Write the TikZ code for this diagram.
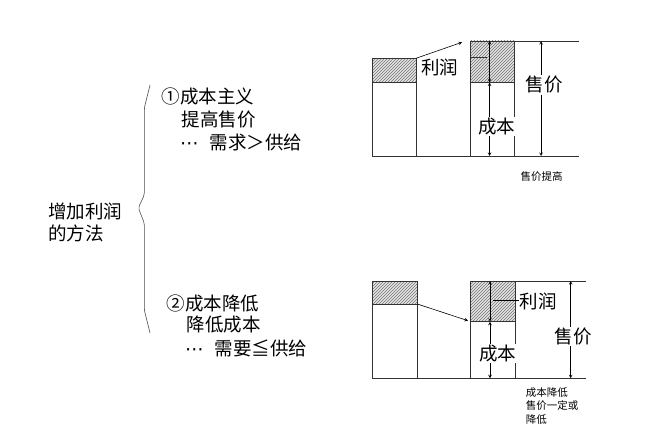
\documentclass[tikz,border=0pt]{standalone}
\usepackage{fontspec}
\setmainfont{Noto Sans CJK SC}
\newfontfamily\dotsfont{DejaVu Sans}
\usetikzlibrary{patterns}

\newcommand{\cdotsx}{{\dotsfont ⋯}\hspace{0.6em}}

\begin{document}
\begin{tikzpicture}[x=1pt,y=-1pt,>=stealth,
    bar/.style={draw=black!80,line width=.7pt},
    hatch/.style={preaction={fill=black!10},pattern=north east lines,pattern color=black!55},
    big/.style={font=\fontsize{18.5}{22}\selectfont,inner sep=0pt},
    small/.style={font=\fontsize{10.5}{13.5}\selectfont,inner sep=0pt},
    lbl/.style={big,fill=white,inner sep=1pt},
    dim/.style={<->,line width=.6pt}]
    \useasboundingbox (0,0) rectangle (660,443);
    % left: methods and brace
    \node[big,align=left,anchor=west] (method) at (48,222.5) {增加利润\\的方法};
    \draw[line width=.6pt,black!70,rounded corners=2pt] (150,85) -- (144.3,108) -- (144.3,195) -- (138.3,208) -- (144.3,223) -- (144.3,310) -- (150,333);
    \node[big,anchor=west] (case1) at (161.7,96) {①成本主义};
    \node[big,anchor=west] (raise) at (181.7,120) {提高售价};
    \node[big,anchor=west] (demand1) at (180,143) {\cdotsx 需求＞供给};
    \node[big,anchor=west] (case2) at (166.7,303) {②成本降低};
    \node[big,anchor=west] (cut) at (186.7,325) {降低成本};
    \node[big,anchor=west] (demand2) at (185,348) {\cdotsx 需要≦供给};
    % top diagram: price raised
    \draw[bar,hatch] (372,58.3) rectangle (416,82.3);
    \draw[bar] (372,82.3) rectangle (416,156);
    \draw[bar,hatch] (470,41) rectangle (514.3,82.5);
    \draw[bar] (470,82.5) rectangle (514.3,156);
    \draw[bar] (372,156) -- (579,156);
    \draw[bar] (470,41) -- (579,41);
    \draw[bar] (470,57.7) -- (487,57.7);
    \coordinate (oldtop1) at (416,58.3);
    \coordinate (newtop1) at (462,42.3);
    \draw[->,line width=.6pt] (oldtop1) -- (newtop1);
    \coordinate (p1a) at (489.5,41);
    \coordinate (p1b) at (489.5,82.5);
    \coordinate (p1c) at (489.5,156);
    \draw[dim] (p1a) -- (p1b);
    \draw[dim] (p1b) -- (p1c);
    \coordinate (s1a) at (541,41);
    \coordinate (s1b) at (541,156);
    \draw[dim] (s1a) -- (s1b);
    \node[lbl] (cost1) at (496.7,126.7) {成本};
    \node[lbl] (price1) at (544,85) {售价};
    \node[big] (profit1) at (439.7,67.3) {利润};
    \node[small] (note1) at (541.7,176.7) {售价提高};
    % bottom diagram: cost lowered
    \draw[bar,hatch] (372.3,281) rectangle (417.3,304);
    \draw[bar] (372.3,304) rectangle (417.3,378.3);
    \draw[bar,hatch] (470.7,281) rectangle (515,321.7);
    \draw[bar] (470.7,321.7) rectangle (515,378.3);
    \draw[bar] (372.3,378.3) -- (586,378.3);
    \draw[bar] (470.7,281) -- (586,281);
    \coordinate (oldtop2) at (417.3,304);
    \coordinate (newtop2) at (468,320.7);
    \draw[->,line width=.6pt] (oldtop2) -- (newtop2);
    \coordinate (p2a) at (490,281);
    \coordinate (p2b) at (490,321.7);
    \coordinate (p2c) at (490,378.3);
    \draw[dim] (p2a) -- (p2b);
    \draw[dim] (p2b) -- (p2c);
    \coordinate (s2a) at (570.7,281);
    \coordinate (s2b) at (570.7,378.3);
    \draw[dim] (s2a) -- (s2b);
    \node[lbl] (cost2) at (497.5,353.3) {成本};
    \node[lbl] (price2) at (573.3,336.7) {售价};
    \node[big,anchor=west] (profit2) at (519.3,301.7) {利润};
    \coordinate (lead2) at (493.3,300.7);
    \draw[line width=.6pt] (lead2) -- (lead2 -| profit2.west);
    \node[small,align=left,anchor=north west] (note2) at (525.7,387) {成本降低\\售价一定或\\降低};
\end{tikzpicture}
\end{document}
